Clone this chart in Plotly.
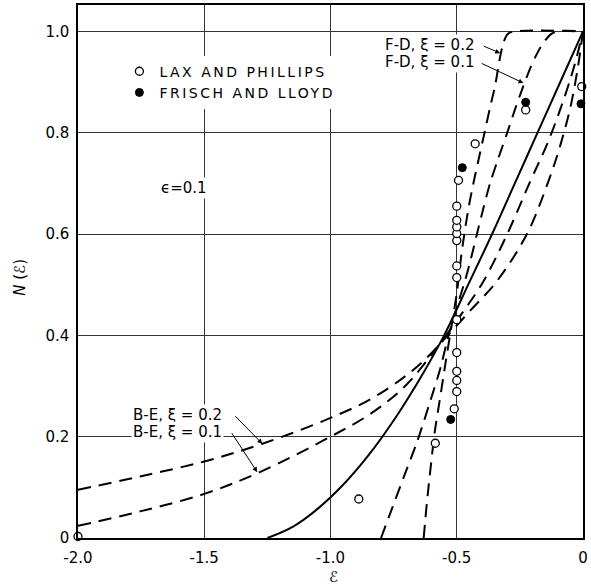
import plotly.graph_objects as go

# ---------------- data ----------------
# solid curve
solid_x = [-1.25, -1.15, -1.05, -0.95, -0.85, -0.75, -0.65, -0.55, -0.45,
           -0.36, -0.27, -0.18, -0.09, 0.0]
solid_y = [0.0, 0.022, 0.058, 0.105, 0.163, 0.232, 0.311, 0.40, 0.505,
           0.60, 0.70, 0.80, 0.90, 1.0]

# F-D, xi = 0.2
fd02_x = [-0.631, -0.622, -0.612, -0.601, -0.587, -0.568, -0.543, -0.52, -0.498, -0.484, -0.47,
          -0.452, -0.432, -0.41, -0.39, -0.368, -0.348, -0.33, -0.315, -0.298, -0.27, 0.0]
fd02_y = [0.0, 0.05, 0.10, 0.15, 0.21, 0.27, 0.35, 0.42, 0.49, 0.55, 0.60,
          0.655, 0.705, 0.755, 0.80, 0.85, 0.893, 0.945, 0.978, 0.995, 1.0, 1.0]

# F-D, xi = 0.1
fd01_x = [-0.80, -0.755, -0.71, -0.657, -0.605, -0.565, -0.535, -0.50, -0.466, -0.442, -0.42,
          -0.395, -0.368, -0.335, -0.30, -0.27, -0.24, -0.21, -0.18, -0.15, -0.125, -0.10, 0.0]
fd01_y = [0.0, 0.06, 0.12, 0.19, 0.27, 0.335, 0.395, 0.455, 0.51, 0.555, 0.60,
          0.65, 0.70, 0.75, 0.80, 0.845, 0.887, 0.926, 0.958, 0.982, 0.995, 1.0, 1.0]

# B-E, xi = 0.1
be01_x = [-2.0, -1.75, -1.5, -1.28, -1.0, -0.842, -0.71, -0.618, -0.55, -0.47, -0.394,
          -0.30, -0.209, -0.14, -0.07, -0.03, 0.0]
be01_y = [0.024, 0.053, 0.087, 0.13, 0.20, 0.245, 0.297, 0.35, 0.395, 0.45, 0.507,
          0.60, 0.704, 0.78, 0.875, 0.94, 1.0]

# B-E, xi = 0.2
be02_x = [-2.0, -1.75, -1.5, -1.27, -1.0, -0.842, -0.71, -0.618, -0.55, -0.45, -0.341,
          -0.222, -0.137, -0.09, -0.05, -0.02, 0.0]
be02_y = [0.095, 0.122, 0.151, 0.186, 0.237, 0.274, 0.317, 0.356, 0.392, 0.447, 0.507,
          0.60, 0.704, 0.775, 0.85, 0.93, 1.0]

# Lax and Phillips (open circles)
lp_x = [-2.0, -0.888, -0.585, -0.51, -0.5, -0.5, -0.5, -0.5, -0.5, -0.5, -0.5, -0.5,
        -0.5, -0.5, -0.5, -0.5, -0.493, -0.427, -0.227, -0.005]
lp_y = [0.003, 0.077, 0.187, 0.255, 0.289, 0.311, 0.329, 0.366, 0.431, 0.514, 0.537, 0.587,
        0.601, 0.614, 0.627, 0.655, 0.706, 0.778, 0.845, 0.891]

# Frisch and Lloyd (filled circles)
fl_x = [-0.524, -0.478, -0.227, -0.008]
fl_y = [0.234, 0.731, 0.86, 0.857]

x_tick_vals = [-2.0, -1.5, -1.0, -0.5, 0.0]
x_tick_text = ["-2.0", "-1.5", "-1.0", "-0.5", "0"]
y_tick_vals = [0.0, 0.2, 0.4, 0.6, 0.8, 1.0]
y_tick_text = ["0", "0.2", "0.4", "0.6", "0.8", "1.0"]

# ---------------- figure ----------------
FONT = "DejaVu Sans"
DASH = "13px,8px"
fig = go.Figure()

curves = [
    (solid_x, solid_y, "solid", 1.0),
    (fd02_x, fd02_y, DASH, 0.8),
    (fd01_x, fd01_y, DASH, 0.9),
    (be01_x, be01_y, DASH, 1.0),
    (be02_x, be02_y, DASH, 1.0),
]
for xs, ys, d, sm in curves:
    fig.add_trace(go.Scatter(
        x=xs, y=ys, mode="lines", showlegend=False, hoverinfo="skip",
        line=dict(color="black", width=2, dash=d, shape="spline", smoothing=sm),
        cliponaxis=False,
    ))

LS = '<span style="letter-spacing:2.5px">{}</span>'
NB = "\u00a0"
fig.add_trace(go.Scatter(
    x=lp_x, y=lp_y, mode="markers", name=LS.format(f"LAX{NB}AND{NB}PHILLIPS"),
    marker=dict(symbol="circle", size=8, color="white", line=dict(color="black", width=1.3)),
    cliponaxis=False,
))
fig.add_trace(go.Scatter(
    x=fl_x, y=fl_y, mode="markers", name=LS.format(f"FRISCH{NB}AND{NB}LLOYD"),
    marker=dict(symbol="circle", size=8, color="black", line=dict(color="black", width=1)),
    cliponaxis=False,
))

annotations = []

def label(x, y, text, xanchor="left", size=15):
    annotations.append(dict(
        x=x, y=y, xref="x", yref="y", text=text, showarrow=False,
        xanchor=xanchor, yanchor="middle", bgcolor="white",
        font=dict(family=FONT, size=size, color="black"),
    ))

def arrow(x_tip, y_tip, x_tail, y_tail):
    annotations.append(dict(
        x=x_tip, y=y_tip, ax=x_tail, ay=y_tail, xref="x", yref="y",
        axref="x", ayref="y", text="", showarrow=True, arrowhead=2,
        arrowsize=1, arrowwidth=1, arrowcolor="black", standoff=0, startstandoff=0,
    ))

label(-0.794, 0.973, "F-D, ξ = 0.2")
label(-0.794, 0.940, "F-D, ξ = 0.1")
label(-1.79, 0.243, "B-E, ξ = 0.2")
label(-1.79, 0.209, "B-E, ξ = 0.1")
label(-1.68, 0.69, "ϵ=0.1")

arrow(-0.328, 0.957, -0.399, 0.972)
arrow(-0.236, 0.898, -0.407, 0.938)
arrow(-1.27, 0.186, -1.383, 0.2435)
arrow(-1.29, 0.13, -1.395, 0.21)

# axis titles
annotations.append(dict(
    x=-0.115, y=0.49, xref="paper", yref="paper", text="<i>N</i> (ℰ)", showarrow=False,
    textangle=-90, xanchor="center", yanchor="middle",
    font=dict(family=FONT, size=15, color="black"),
))
annotations.append(dict(
    x=0.505, y=-0.073, xref="paper", yref="paper", text="ℰ", showarrow=False,
    xanchor="center", yanchor="middle",
    font=dict(family=FONT, size=15, color="black"),
))

axis_common = dict(
    showgrid=True, gridcolor="#333333", gridwidth=1,
    showline=True, mirror=True, linecolor="black", linewidth=1.5,
    zeroline=False, ticks="", tickfont=dict(family=FONT, size=15, color="black"),
)

fig.update_layout(
    width=591, height=588,
    margin=dict(l=78, r=8, t=3, b=50),
    paper_bgcolor="white", plot_bgcolor="white",
    xaxis=dict(range=[-2.0, 0.0], tickvals=x_tick_vals, ticktext=x_tick_text,
               ticklabelstandoff=5, **axis_common),
    yaxis=dict(range=[0.0, 1.052], tickvals=y_tick_vals, ticktext=y_tick_text,
               ticklabelstandoff=4, **axis_common),
    showlegend=True,
    legend=dict(
        x=0.082, y=0.905, xanchor="left", yanchor="top", bgcolor="white",
        font=dict(family=FONT, size=14, color="black"), borderwidth=0,
        tracegroupgap=0,
    ),
    annotations=annotations,
)

fig.write_html("out.html", config={"displayModeBar": False},
               post_script="document.body.style.margin='0px';")
